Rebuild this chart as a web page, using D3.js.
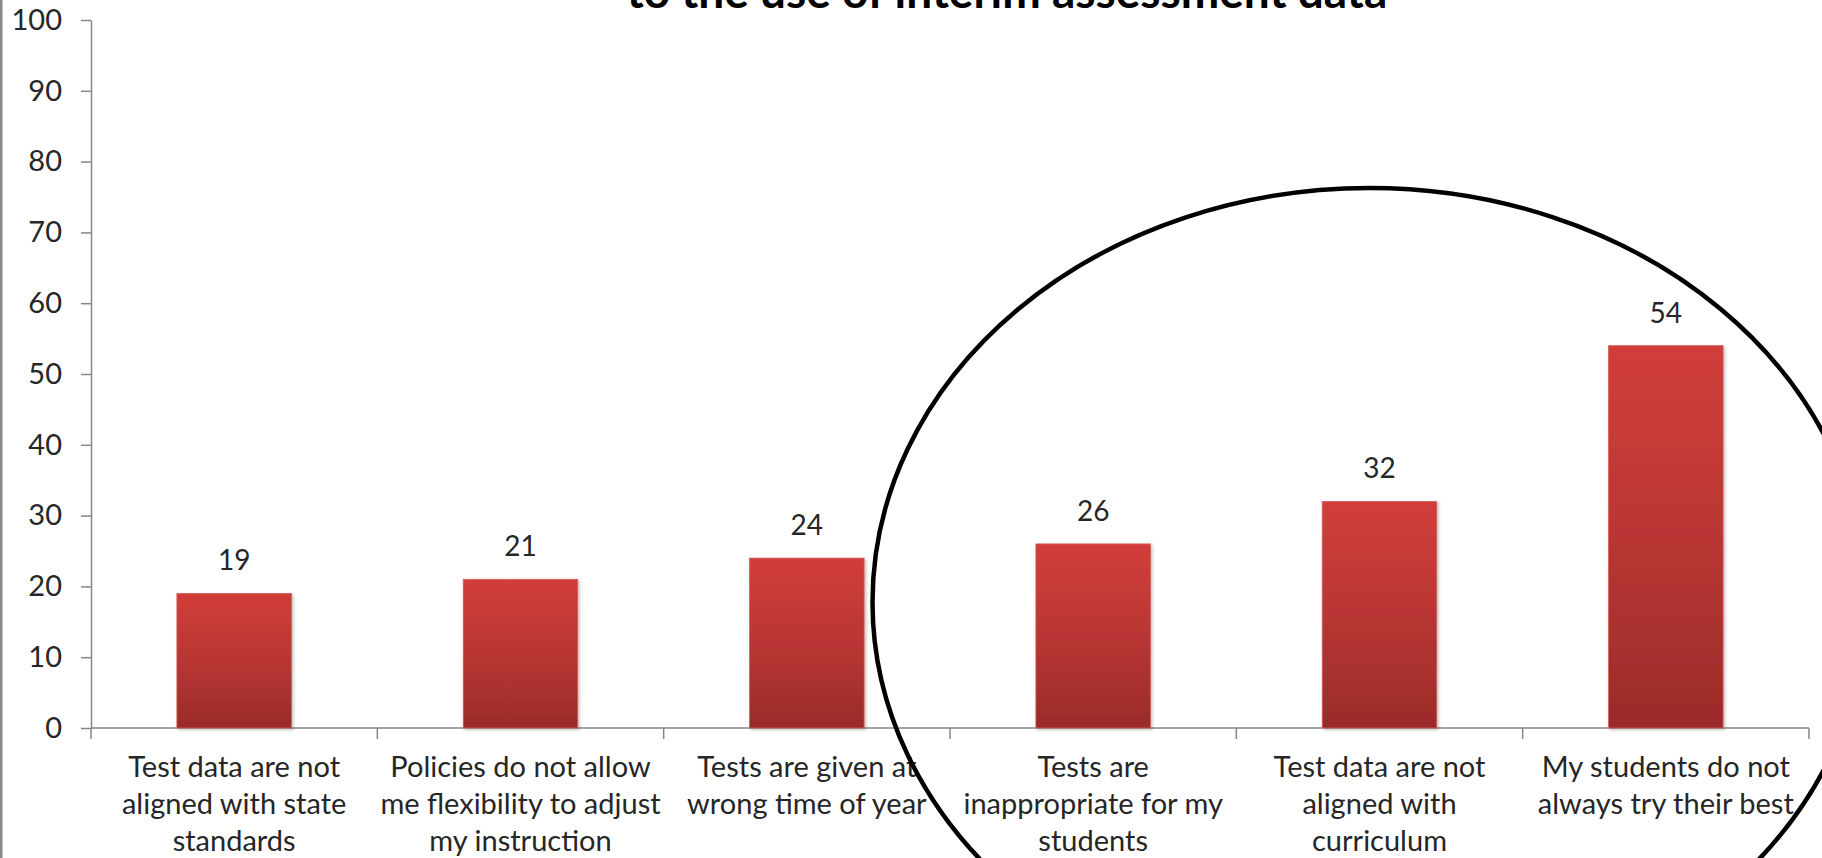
<!DOCTYPE html>
<html>
<head>
<meta charset="utf-8">
<script src="https://cdn.jsdelivr.net/npm/d3@7"></script>
<style>
  html, body { margin: 0; padding: 0; background: #ffffff; }
  svg { display: block; font-family: Lato, "Open Sans", sans-serif; }
</style>
</head>
<body>
<svg id="chart" width="1822" height="858"></svg>
<script>
// Reasons teachers give for barriers to the use of interim assessment data (%)
const categories = [
  "Test data are not aligned with state standards",
  "Policies do not allow me flexibility to adjust my instruction",
  "Tests are given at wrong time of year",
  "Tests are inappropriate for my students",
  "Test data are not aligned with curriculum",
  "My students do not always try their best"
];
const categoryLines = [
  ["Test data are not", "aligned with state", "standards"],
  ["Policies do not allow", "me flexibility to adjust", "my instruction"],
  ["Tests are given at", "wrong time of year"],
  ["Tests are", "inappropriate for my", "students"],
  ["Test data are not", "aligned with", "curriculum"],
  ["My students do not", "always try their best"]
];
const values = [19, 21, 24, 26, 32, 54];
const yTicks = [0, 10, 20, 30, 40, 50, 60, 70, 80, 90, 100];
const titleLine = "to the use of interim assessment data";
// the last three categories are ringed as the highlighted group
const highlighted = categories.slice(3);

const svg = d3.select("#chart");
const margin = { left: 91, right: 13, top: 20, bottom: 130 };
const W = 1822, H = 858;
const plotBottom = H - margin.bottom;

const x = d3.scaleBand()
  .domain(categories)
  .range([margin.left, W - margin.right])
  .paddingInner(0.6)
  .paddingOuter(0.3);

const y = d3.scaleLinear()
  .domain([0, 100])
  .range([plotBottom, margin.top]);

// chart frame edge on the left
svg.append("rect")
  .attr("x", 0).attr("y", 0)
  .attr("width", 2.5).attr("height", H)
  .attr("fill", "#8a8a8a");

const defs = svg.append("defs");
const grad = defs.append("linearGradient")
  .attr("id", "barFill")
  .attr("x1", 0).attr("y1", 0).attr("x2", 0).attr("y2", 1);
grad.append("stop").attr("offset", "0%").attr("stop-color", "#d13e3a");
grad.append("stop").attr("offset", "50%").attr("stop-color", "#b93634");
grad.append("stop").attr("offset", "100%").attr("stop-color", "#9a2b29");

const shadow = defs.append("filter")
  .attr("id", "barShadow")
  .attr("x", "-20%").attr("y", "-20%").attr("width", "140%").attr("height", "140%");
shadow.append("feDropShadow")
  .attr("dx", 1.5).attr("dy", 1.5).attr("stdDeviation", 1.8)
  .attr("flood-color", "#000").attr("flood-opacity", 0.25);

// title (second line, running off the top edge)
svg.append("text")
  .attr("x", 1007)
  .attr("y", 8)
  .attr("text-anchor", "middle")
  .attr("font-size", 46)
  .attr("font-weight", 700)
  .attr("fill", "#000")
  .text(titleLine);

// y axis
const yAxis = d3.axisLeft(y)
  .tickValues(yTicks)
  .tickSize(10)
  .tickSizeOuter(0)
  .tickPadding(19);
const gy = svg.append("g")
  .attr("transform", `translate(${margin.left},0)`)
  .call(yAxis);
gy.select(".domain").attr("stroke", "#868686").attr("stroke-width", 1.5);
gy.selectAll(".tick line").attr("stroke", "#868686").attr("stroke-width", 1.5);
gy.selectAll(".tick text")
  .attr("font-size", 29)
  .attr("fill", "#262626")
  .attr("font-family", "Lato, sans-serif");

// x axis baseline with ticks on category boundaries
const gx = svg.append("g");
gx.append("line")
  .attr("x1", margin.left).attr("x2", x.range()[1])
  .attr("y1", y(0)).attr("y2", y(0))
  .attr("stroke", "#868686").attr("stroke-width", 1.5);
const boundaries = d3.range(categories.length + 1).map(i => x.range()[0] + i * x.step());
gx.selectAll("line.bound")
  .data(boundaries)
  .join("line")
  .attr("class", "bound")
  .attr("x1", d => d).attr("x2", d => d)
  .attr("y1", y(0)).attr("y2", y(0) + 11)
  .attr("stroke", "#868686").attr("stroke-width", 1.5);

// category labels
const labelGroups = gx.selectAll("text.cat")
  .data(categories)
  .join("text")
  .attr("class", "cat")
  .attr("text-anchor", "middle")
  .attr("font-size", 29)
  .attr("fill", "#262626");
labelGroups.each(function(d, i) {
  const t = d3.select(this);
  const cx = x(d) + x.bandwidth() / 2;
  categoryLines[i].forEach((ln, k) => {
    t.append("tspan")
      .attr("x", cx)
      .attr("y", y(0) + 49 + k * 37)
      .text(ln);
  });
});

// bars
svg.append("g")
  .selectAll("rect")
  .data(values)
  .join("rect")
  .attr("x", (d, i) => x(categories[i]))
  .attr("y", d => y(d))
  .attr("width", x.bandwidth())
  .attr("height", d => y(0) - y(d))
  .attr("fill", "url(#barFill)")
  .attr("stroke", "#d45f5a")
  .attr("stroke-width", 0.8)
  .attr("filter", "url(#barShadow)");

// value labels
svg.append("g")
  .selectAll("text")
  .data(values)
  .join("text")
  .attr("x", (d, i) => x(categories[i]) + x.bandwidth() / 2)
  .attr("y", d => y(d) - 23)
  .attr("text-anchor", "middle")
  .attr("font-size", 28)
  .attr("fill", "#262626")
  .text(d => d3.format("d")(d));

// ring around the highlighted group of categories
const hiLeft = x(highlighted[0]);
const hiRight = x(highlighted[highlighted.length - 1]) + x.bandwidth();
const ringCx = (hiLeft + hiRight) / 2 - 10;
svg.append("ellipse")
  .attr("cx", ringCx)
  .attr("cy", y(17.8))
  .attr("rx", 497)
  .attr("ry", 414)
  .attr("fill", "none")
  .attr("stroke", "#000")
  .attr("stroke-width", 4.5);
</script>
</body>
</html>
